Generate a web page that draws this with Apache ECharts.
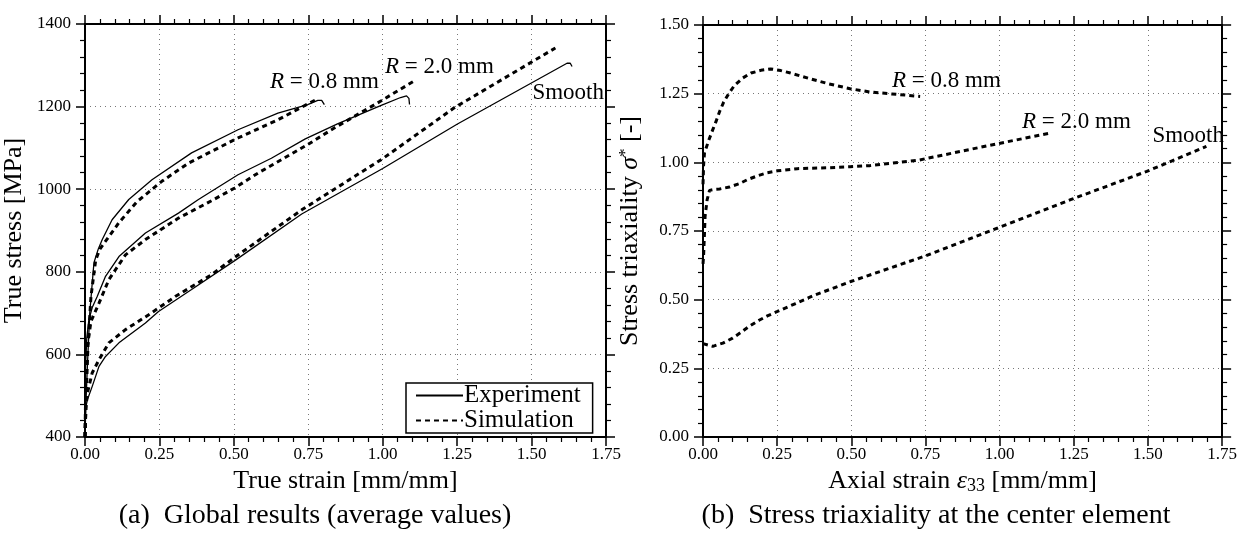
<!DOCTYPE html>
<html><head><meta charset="utf-8">
<script src="https://cdn.jsdelivr.net/npm/echarts@6/dist/echarts.min.js"></script>
<style>html,body{margin:0;padding:0;background:#fff}#c{width:1240px;height:536px}</style>
</head><body><div id="c"></div>
<script>
// ---- Left chart data: true strain [mm/mm] vs true stress [MPa]
var r08ExpStrain = [0, 0.003, 0.008, 0.016, 0.030, 0.045, 0.058, 0.091, 0.147, 0.225, 0.358, 0.514, 0.648, 0.748, 0.782, 0.795, 0.804];
var r08ExpStress = [400, 480, 571, 701, 822, 856, 878, 926, 975, 1023, 1088, 1144, 1184, 1205, 1215, 1215, 1205];
var r08SimStrain = [0, 0.004, 0.010, 0.020, 0.036, 0.050, 0.069, 0.114, 0.175, 0.258, 0.347, 0.514, 0.648, 0.776];
var r08SimStress = [400, 500, 620, 740, 829, 855, 874, 919, 970, 1019, 1063, 1124, 1168, 1217];
var r20ExpStrain = [0, 0.002, 0.006, 0.013, 0.025, 0.041, 0.069, 0.114, 0.203, 0.314, 0.381, 0.514, 0.626, 0.740, 0.848, 0.995, 1.060, 1.080, 1.088, 1.090];
var r20ExpStress = [400, 571, 640, 684, 715, 740, 789, 837, 894, 942, 975, 1035, 1075, 1122, 1158, 1203, 1222, 1226, 1220, 1205];
var r20SimStrain = [0, 0.003, 0.008, 0.020, 0.047, 0.080, 0.136, 0.203, 0.314, 0.425, 0.503, 0.581, 0.748, 0.837, 0.995, 1.112];
var r20SimStress = [400, 540, 619, 680, 724, 781, 841, 878, 930, 972, 1003, 1039, 1108, 1148, 1214, 1265];
var smExpStrain = [0, 0.002, 0.008, 0.024, 0.047, 0.069, 0.114, 0.203, 0.247, 0.358, 0.503, 0.728, 1.000, 1.251, 1.619, 1.630, 1.636];
var smExpStress = [400, 470, 490, 522, 571, 595, 628, 676, 704, 757, 827, 940, 1050, 1158, 1305, 1305, 1297];
var smSimStrain = [0, 0.003, 0.008, 0.024, 0.047, 0.080, 0.136, 0.214, 0.303, 0.425, 0.503, 0.728, 1.000, 1.240, 1.580];
var smSimStress = [400, 470, 506, 555, 587, 628, 660, 696, 740, 793, 835, 950, 1074, 1197, 1342];

// ---- Right chart data: axial strain vs stress triaxiality
var t08Strain = [0, 0.002, 0.005, 0.020, 0.033, 0.044, 0.056, 0.070, 0.086, 0.106, 0.134, 0.162, 0.195, 0.228, 0.262, 0.295, 0.362, 0.423, 0.496, 0.563, 0.637, 0.732];
var t08Value  = [0.92, 0.99, 1.034, 1.082, 1.119, 1.149, 1.185, 1.220, 1.249, 1.280, 1.307, 1.325, 1.335, 1.340, 1.334, 1.325, 1.304, 1.286, 1.268, 1.256, 1.249, 1.240];
var t20Strain = [0, 0.002, 0.005, 0.007, 0.014, 0.022, 0.040, 0.056, 0.089, 0.122, 0.150, 0.184, 0.217, 0.251, 0.318, 0.418, 0.496, 0.563, 0.727, 0.994, 1.173];
var t20Value  = [0.63, 0.66, 0.743, 0.803, 0.864, 0.898, 0.902, 0.903, 0.910, 0.922, 0.937, 0.951, 0.962, 0.969, 0.977, 0.980, 0.984, 0.988, 1.008, 1.068, 1.107];
var tSmStrain = [0, 0.005, 0.033, 0.067, 0.100, 0.128, 0.156, 0.189, 0.217, 0.251, 0.312, 0.373, 0.498, 0.749, 0.994, 1.239, 1.496, 1.697];
var tSmValue  = [0.34, 0.336, 0.330, 0.342, 0.360, 0.381, 0.403, 0.425, 0.441, 0.457, 0.486, 0.515, 0.566, 0.659, 0.761, 0.864, 0.967, 1.058];

// ---- Tick settings
var strainTicks = {min: 0, max: 1.75, interval: 0.25};
var stressTicks = {min: 400, max: 1400, interval: 200};
var triaxTicks = {min: 0, max: 1.5, interval: 0.25};

function zip(a, b) { return a.map(function (v, i) { return [v, b[i]]; }); }

var FONT = '"Liberation Serif", "DejaVu Serif", serif';
var solid = {color: '#000', width: 1.3, type: 'solid'};
var dotted = {color: '#000', width: 3, type: [5, 4], cap: 'butt'};

function axisBase(t, pos, gridIndex, labels, fmt, margin) {
  return {
    type: 'value', gridIndex: gridIndex, position: pos,
    min: t.min, max: t.max, interval: t.interval,
    axisLine: {show: true, onZero: false, lineStyle: {color: '#000', width: 2}},
    axisTick: {show: true, length: 9, lineStyle: {color: '#000', width: 1.5}},
    minorTick: {show: true, splitNumber: 5, length: 5, lineStyle: {color: '#000', width: 1.2}},
    axisLabel: {show: labels, color: '#000', fontFamily: FONT, fontSize: 17, margin: margin || 10, formatter: fmt},
    splitLine: {show: labels, lineStyle: {color: '#777', type: [1, 4], width: 1}},
    minorSplitLine: {show: false}
  };
}
var f2 = function (v) { return v.toFixed(2); };
var f0 = function (v) { return String(v); };

var NS = 26;
var nameStyle = {color: '#000', fontFamily: FONT, fontSize: NS,
  rich: {
    i: {fontFamily: FONT, fontSize: NS, fontStyle: 'italic', color: '#000'},
    sup: {fontFamily: FONT, fontSize: 17, verticalAlign: 'top', color: '#000', padding: [0, 0, 10, 0]},
    sub: {fontFamily: FONT, fontSize: 18, color: '#000', padding: [10, 0, 0, 0]},
    n: {fontFamily: FONT, fontSize: NS, color: '#000'}
  }};

var xA0 = axisBase(strainTicks, 'bottom', 0, true, f2, 9);
xA0.name = 'True strain [mm/mm]'; xA0.nameLocation = 'middle'; xA0.nameGap = 28; xA0.nameTextStyle = nameStyle;
var xA0t = axisBase(strainTicks, 'top', 0, false, f2);
var yA0 = axisBase(stressTicks, 'left', 0, true, f0, 14);
yA0.name = 'True stress [MPa]'; yA0.nameLocation = 'middle'; yA0.nameGap = 58; yA0.nameTextStyle = nameStyle;
var yA0r = axisBase(stressTicks, 'right', 0, false, f0);

var xA1 = axisBase(strainTicks, 'bottom', 1, true, f2, 9);
xA1.name = '{n|Axial strain }{i|ε}{sub|33}{n| [mm/mm]}'; xA1.nameLocation = 'middle'; xA1.nameGap = 28; xA1.nameTextStyle = nameStyle;
var xA1t = axisBase(strainTicks, 'top', 1, false, f2);
var yA1 = axisBase(triaxTicks, 'left', 1, true, f2, 14);
yA1.name = '{n|Stress triaxiality }{i|σ}{sup|*}{n| [-]}'; yA1.nameLocation = 'middle'; yA1.nameGap = 59; yA1.nameTextStyle = nameStyle;
var yA1r = axisBase(triaxTicks, 'right', 1, false, f2);

function line(name, xi, yi, data, style) {
  return {type: 'line', name: name, xAxisIndex: xi, yAxisIndex: yi, data: data,
    color: '#000', showSymbol: false, symbol: 'none', smooth: false,
    lineStyle: style, animation: false, z: 5};
}

var AS = 23;
var rich = {
  i: {fontFamily: FONT, fontSize: AS, fontStyle: 'italic', fill: '#000'},
  n: {fontFamily: FONT, fontSize: AS, fill: '#000'}
};
function ann(x, y, text, align) {
  return {type: 'text', x: x, y: y, z: 10,
    style: {text: text, rich: rich, font: AS + 'px ' + FONT, fill: '#000',
      align: align || 'left', verticalAlign: 'middle', textAlign: align || 'left', textVerticalAlign: 'middle'}};
}
function caption(x, y, text) {
  return {type: 'text', x: x, y: y, z: 10,
    style: {text: text, font: '28px ' + FONT, fill: '#000',
      align: 'center', verticalAlign: 'middle', textAlign: 'center', textVerticalAlign: 'middle'}};
}

var option = {
  backgroundColor: '#fff',
  animation: false,
  grid: [
    {left: 82, top: 24, width: 524, height: 413},
    {left: 703, top: 25, width: 523, height: 412}
  ],
  xAxis: [xA0, xA0t, xA1, xA1t],
  yAxis: [yA0, yA0r, yA1, yA1r],
  legend: {
    data: ['Experiment', 'Simulation'], orient: 'vertical',
    left: 406, top: 383, padding: [0, 12, 0, 9], itemGap: 0,
    itemWidth: 47, itemHeight: 23,
    borderColor: '#000', borderWidth: 1.5, borderRadius: 0, backgroundColor: '#fff',
    itemStyle: {opacity: 0},
    textStyle: {color: '#000', fontFamily: FONT, fontSize: 25, padding: [0, 0, 0, -4]},
    selectedMode: false
  },
  series: [
    line('Experiment', 0, 0, zip(r08ExpStrain, r08ExpStress), solid),
    line('Simulation', 0, 0, zip(r08SimStrain, r08SimStress), dotted),
    line('Experiment', 0, 0, zip(r20ExpStrain, r20ExpStress), solid),
    line('Simulation', 0, 0, zip(r20SimStrain, r20SimStress), dotted),
    line('Experiment', 0, 0, zip(smExpStrain, smExpStress), solid),
    line('Simulation', 0, 0, zip(smSimStrain, smSimStress), dotted),
    line('R08 triax', 2, 2, zip(t08Strain, t08Value), dotted),
    line('R20 triax', 2, 2, zip(t20Strain, t20Value), dotted),
    line('Smooth triax', 2, 2, zip(tSmStrain, tSmValue), dotted)
  ],
  graphic: [
    ann(270, 82, '{i|R}{n| = 0.8 mm}'),
    ann(385, 67, '{i|R}{n| = 2.0 mm}'),
    ann(604, 93, '{n|Smooth}', 'right'),
    ann(892, 81, '{i|R}{n| = 0.8 mm}'),
    ann(1022, 122, '{i|R}{n| = 2.0 mm}'),
    ann(1224, 136, '{n|Smooth}', 'right'),
    caption(315, 516, '(a)  Global results (average values)'),
    caption(936, 516, '(b)  Stress triaxiality at the center element')
  ]
};
var chart = echarts.init(document.getElementById('c'), null, {renderer: 'canvas'});
chart.setOption(option);
</script></body></html>
